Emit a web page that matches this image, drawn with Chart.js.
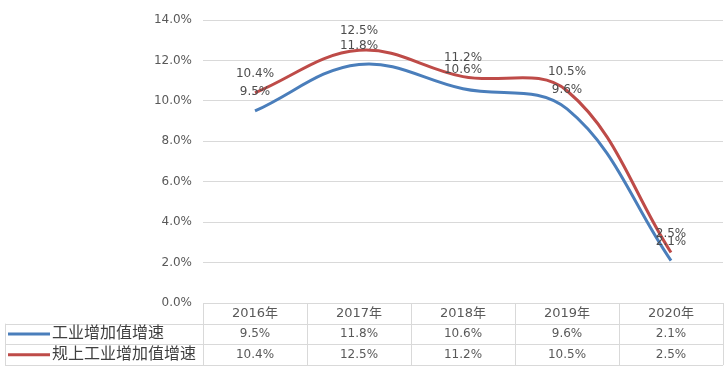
<!DOCTYPE html>
<html>
<head>
<meta charset="utf-8">
<script src="https://cdn.jsdelivr.net/npm/chart.js@4/dist/chart.umd.min.js"></script>
<style>
  html, body { margin: 0; padding: 0; background: #fff; }
  #wrap { width: 725px; height: 381px; }
</style>
</head>
<body>
<div id="wrap"><canvas id="c"></canvas></div>
<script>
var years = ["2016年", "2017年", "2018年", "2019年", "2020年"];
var industryGrowth = [9.5, 11.8, 10.6, 9.6, 2.1];
var aboveScaleGrowth = [10.4, 12.5, 11.2, 10.5, 2.5];
var seriesNames = ["工业增加值增速", "规上工业增加值增速"];
var yTicks = [0, 2, 4, 6, 8, 10, 12, 14];

var FONT = "'DejaVu Sans', 'Noto Sans CJK SC', sans-serif";
var GRID = "#d9d9d9";

// labels above each point + data table under the plot
var tablePlugin = {
    id: "dataTable",
    afterDatasetsDraw: function(chart) {
        var ctx = chart.ctx;
        ctx.save();
        ctx.font = "12px " + FONT;
        ctx.fillStyle = "#4d4d4d";
        ctx.textAlign = "center";
        ctx.textBaseline = "middle";
        chart.data.datasets.forEach(function(ds, i) {
            chart.getDatasetMeta(i).data.forEach(function(pt, j) {
                ctx.fillText(ds.data[j].toFixed(1) + "%", pt.x, pt.y - 19);
            });
        });
        ctx.restore();
    },
    afterDraw: function(chart) {
        var ctx = chart.ctx;
        var area = chart.chartArea;
        var x = chart.scales.x;
        var colW = (area.right - area.left) / years.length;
        var top = area.bottom;
        var rowH = 20.7;
        var bottom = top + rowH * 3;
        ctx.save();
        ctx.strokeStyle = GRID;
        ctx.lineWidth = 1;
        ctx.beginPath();
        // vertical lines
        for (var k = 0; k <= years.length; k++) {
            var vx = Math.round(area.left + colW * k) + 0.5;
            ctx.moveTo(vx, top);
            ctx.lineTo(vx, bottom);
        }
        ctx.moveTo(5.5, top + rowH);
        ctx.lineTo(5.5, bottom);
        // horizontal lines
        ctx.moveTo(area.left, Math.round(top) + 0.5);
        ctx.lineTo(area.right, Math.round(top) + 0.5);
        for (var r = 1; r <= 3; r++) {
            var hy = Math.round(top + rowH * r) + 0.5;
            ctx.moveTo(5, hy);
            ctx.lineTo(area.right, hy);
        }
        ctx.stroke();

        ctx.textAlign = "center";
        ctx.textBaseline = "middle";
        ctx.fillStyle = "#595959";
        ctx.font = "13px " + FONT;
        years.forEach(function(y, j) {
            ctx.fillText(y, x.getPixelForValue(j), top + rowH * 0.5);
        });
        ctx.font = "12px " + FONT;
        chart.data.datasets.forEach(function(ds, i) {
            var cy = top + rowH * (i + 1.5);
            ds.data.forEach(function(v, j) {
                ctx.fillText(v.toFixed(1) + "%", x.getPixelForValue(j), cy);
            });
            // legend key
            ctx.strokeStyle = ds.borderColor;
            ctx.lineWidth = 3;
            ctx.beginPath();
            ctx.moveTo(8, cy);
            ctx.lineTo(50, cy);
            ctx.stroke();
            ctx.textAlign = "left";
            ctx.fillStyle = "#404040";
            ctx.font = "16px " + FONT;
            ctx.fillText(ds.label, 52, cy);
            ctx.textAlign = "center";
            ctx.fillStyle = "#595959";
            ctx.font = "12px " + FONT;
        });
        ctx.restore();
    }
};

new Chart(document.getElementById("c"), {
    type: "line",
    data: {
        labels: years,
        datasets: [{
            label: seriesNames[0],
            data: industryGrowth,
            borderColor: "#4a7ebb",
            borderWidth: 3,
            pointRadius: 0,
            tension: 0.38
        }, {
            label: seriesNames[1],
            data: aboveScaleGrowth,
            borderColor: "#be4b48",
            borderWidth: 3,
            pointRadius: 0,
            tension: 0.38
        }]
    },
    options: {
        responsive: true,
        maintainAspectRatio: false,
        animation: false,
        layout: { padding: { top: 20, right: 2, bottom: 78, left: 0 } },
        plugins: { legend: { display: false }, tooltip: { enabled: false } },
        scales: {
            x: { display: false, offset: true },
            y: {
                min: 0,
                max: 14,
                afterBuildTicks: function(s) { s.ticks = yTicks.map(function(v) { return { value: v }; }); },
                afterFit: function(s) { s.width = 203; },
                border: { display: false },
                grid: { color: GRID, drawTicks: false },
                ticks: {
                    padding: 11,
                    color: "#595959",
                    font: { family: FONT, size: 12 },
                    callback: function(v) { return v.toFixed(1) + "%"; }
                }
            }
        }
    },
    plugins: [tablePlugin]
});
</script>
</body>
</html>
